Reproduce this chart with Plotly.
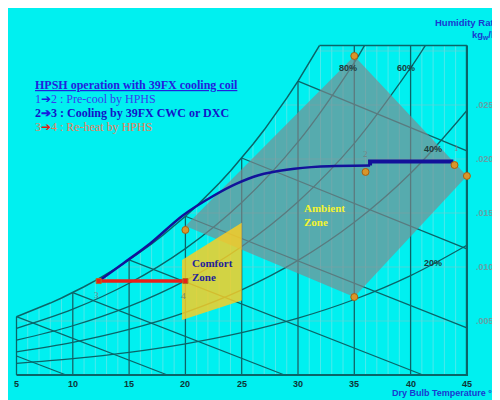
import plotly.graph_objects as go

# saturation curve (100% RH), humidity ratio kg/kg
sat_t = [5, 6, 7, 8, 9, 10, 11, 12, 13, 14, 15, 16, 17, 18, 19, 20,
         21, 22, 23, 24, 25, 26, 27, 28, 29, 30, 31, 31.9]
sat_w = [0.00540, 0.00580, 0.00621, 0.00666, 0.00713, 0.00763, 0.00817, 0.00873,
         0.00933, 0.00997, 0.01065, 0.01137, 0.01213, 0.01294, 0.01379, 0.01470,
         0.01566, 0.01667, 0.01775, 0.01889, 0.02009, 0.02136, 0.02270, 0.02412,
         0.02563, 0.02721, 0.02889, 0.03050]
w_top = 0.0305

# relative humidity curves
rh_labels = ["80%", "60%", "40%", "20%"]
rh_t = [
    [5, 10, 15, 20, 25, 30, 35, 35.9],
    [5, 10, 15, 20, 25, 30, 35, 40, 41.3],
    [5, 10, 15, 20, 25, 30, 35, 40, 45],
    [5, 10, 15, 20, 25, 30, 35, 40, 45],
]
rh_w = [
    [0.00432, 0.00609, 0.00849, 0.01170, 0.01597, 0.02158, 0.02893, 0.0305],
    [0.00323, 0.00456, 0.00635, 0.00874, 0.01190, 0.01605, 0.02145, 0.02844, 0.0305],
    [0.00215, 0.00303, 0.00422, 0.00580, 0.00788, 0.01061, 0.01414, 0.01868, 0.02449],
    [0.00107, 0.00151, 0.00210, 0.00289, 0.00392, 0.00526, 0.00699, 0.00920, 0.01201],
]
rh_label_t = [34.4, 39.6, 42.0, 42.0]
rh_label_w = [0.0284, 0.0284, 0.0209, 0.0104]

# wet bulb lines (start / end)
wb_t0 = [5, 5, 10, 15, 20, 25, 30]
wb_w0 = [0.00176, 0.00540, 0.00763, 0.01065, 0.01470, 0.02009, 0.02721]
wb_t1 = [9.4, 18.4, 28.8, 41.1, 45, 45, 45]
wb_w1 = [0, 0, 0, 0, 0.00437, 0.01167, 0.02076]

# dry bulb lines
db_t = [5, 10, 15, 20, 25, 30, 35, 40, 45]
db_top = [0.00540, 0.00763, 0.01065, 0.01470, 0.02009, 0.02721, 0.0305, 0.0305, 0.0305]

# faint grid
hgrid_w = [0.005, 0.010, 0.015, 0.020, 0.025, 0.030]
hgrid_t0 = [5, 14.05, 20.3, 24.93, 28.6, 31.6]

x_ticks = [5, 10, 15, 20, 25, 30, 35, 40, 45]
y_ticks = [0.005, 0.010, 0.015, 0.020, 0.025]
y_tick_text = [".005", ".010", ".015", ".020", ".025"]

# zones
ambient_t = [20, 35, 45, 35]
ambient_w = [0.0138, 0.02954, 0.01843, 0.00722]
comfort_t = [19.7, 25.0, 25.0, 19.7]
comfort_w = [0.01065, 0.0141, 0.0069, 0.0051]

# process
cool_t = [12.3, 14.5, 16.9, 19.8, 22.5, 24.5, 26.5, 29.0, 32.0, 36.4]
cool_w = [0.0087, 0.01035, 0.0122, 0.0148, 0.0166, 0.0177, 0.0185, 0.0190, 0.0193, 0.0194]
precool_t = [36.4, 36.4, 43.8]
precool_w = [0.0194, 0.01977, 0.01977]
reheat_t = [12.3, 20.0]
reheat_w = [0.0087, 0.0087]
dots_t = [35, 20, 35, 45, 36.0, 43.9]
dots_w = [0.02954, 0.01343, 0.00722, 0.01843, 0.0188, 0.01944]
pt_labels = ["1", "2", "3", "4"]
pt_t = [44.1, 36.0, 12.1, 19.8]
pt_w = [0.0210, 0.0205, 0.0074, 0.0073]

line_col = "#0a6468"
faint_col = "rgba(170,225,228,0.45)"
W, H, OFF = 500, 400, 8   # page body margin shifts the figure by 8px


def paper(x, y):
    # picture pixels -> paper coords
    return (x - OFF) / W, 1 - (y - OFF) / H


fig = go.Figure()


def seg(xs, ys, color, width):
    fig.add_trace(go.Scatter(x=xs, y=ys, mode="lines", hoverinfo="skip",
                             line=dict(color=color, width=width), showlegend=False))


# faint grid verticals every degree
vx, vy = [], []
for t in range(6, 45):
    top = sat_w[sat_t.index(t)] if t in sat_t else w_top
    vx += [t, t, None]
    vy += [0, top, None]
seg(vx, vy, faint_col, 1)
hx, hy = [], []
for w, t0 in zip(hgrid_w, hgrid_t0):
    hx += [t0, 45, None]
    hy += [w, w, None]
seg(hx, hy, "rgba(120,200,205,0.6)", 1)

# dry bulb
dx, dy = [], []
for t, top in zip(db_t, db_top):
    dx += [t, t, None]
    dy += [0, top, None]
seg(dx, dy, line_col, 1.3)
# wet bulb
wx, wy = [], []
for a, b, c, d in zip(wb_t0, wb_w0, wb_t1, wb_w1):
    wx += [a, c, None]
    wy += [b, d, None]
seg(wx, wy, line_col, 1.3)
# rh curves
for ts, ws in zip(rh_t, rh_w):
    fig.add_trace(go.Scatter(x=ts, y=ws, mode="lines", hoverinfo="skip", showlegend=False,
                             line=dict(color=line_col, width=1.3, shape="spline")))
seg(sat_t, sat_w, line_col, 1.5)
seg([31.9, 45], [w_top, w_top], line_col, 1.5)
seg([5, 45, 45], [0, 0, w_top], line_col, 2.2)

# zones
fig.add_trace(go.Scatter(x=ambient_t + [ambient_t[0]], y=ambient_w + [ambient_w[0]],
                         mode="lines", fill="toself", fillcolor="rgba(130,135,140,0.66)",
                         line=dict(width=0), hoverinfo="skip", showlegend=False))
fig.add_trace(go.Scatter(x=comfort_t + [comfort_t[0]], y=comfort_w + [comfort_w[0]],
                         mode="lines", fill="toself", fillcolor="rgba(250,205,35,0.84)",
                         line=dict(width=0), hoverinfo="skip", showlegend=False))

# process lines
fig.add_trace(go.Scatter(x=cool_t, y=cool_w, mode="lines", hoverinfo="skip", showlegend=False,
                         line=dict(color="#12129a", width=2.5, shape="spline")))
seg(precool_t, precool_w, "#12129a", 4)
fig.add_trace(go.Scatter(x=reheat_t, y=reheat_w, mode="lines+markers", hoverinfo="skip",
                         showlegend=False, line=dict(color="#e8201a", width=3.5),
                         marker=dict(symbol="square", size=5, color="#e8201a",
                                     line=dict(color="#b07020", width=1))))
fig.add_trace(go.Scatter(x=dots_t, y=dots_w, mode="markers", hoverinfo="skip", showlegend=False,
                         marker=dict(size=7, color="#d9962a", line=dict(color="#a86010", width=1))))

ann = []
for t, w, s in zip(pt_t, pt_w, pt_labels):
    ann.append(dict(x=t, y=w, text=s, showarrow=False,
                    font=dict(family="Liberation Serif", size=9, color="#6f8484")))
for t, w, s in zip(rh_label_t, rh_label_w, rh_labels):
    ann.append(dict(x=t, y=w, text="<b>" + s + "</b>", showarrow=False,
                    font=dict(family="Liberation Sans", size=9, color="#1c3c3c")))
for t in x_ticks:
    ann.append(dict(x=t, y=0, text="<b>%d</b>" % t, showarrow=False, yshift=-9,
                    font=dict(family="Liberation Sans", size=9, color="#0f3535")))
for w, s in zip(y_ticks, y_tick_text):
    ann.append(dict(x=45, y=w, text="<b>" + s + "</b>", showarrow=False, xshift=18,
                    font=dict(family="Liberation Sans", size=9, color="#66a0a6")))

ann.append(dict(x=30.35, y=0.01477, text="<b>Ambient<br>Zone</b>", showarrow=False,
                xanchor="left", align="left",
                font=dict(family="Liberation Serif", size=11, color="#f4f430")))
ann.append(dict(x=20.4, y=0.00972, text="<b>Comfort<br>Zone</b>", showarrow=False,
                xanchor="left", align="left",
                font=dict(family="Liberation Serif", size=11, color="#22229a")))

blue_arrow = "<span style='color:#1a1ae0'>➔</span>"
red_arrow = "<span style='color:#e02010'>➔</span>"
legend_lines = [
    ("<b><u>HPSH operation with 39FX cooling coil</u></b>", "#2222dd", 85),
    ("1" + blue_arrow + "2 : Pre-cool by HPHS", "#3a3af0", 99),
    ("<b>2" + blue_arrow + "3 : Cooling by 39FX CWC or DXC</b>", "#1414c8", 113),
    ("3" + red_arrow + "4 : Re-heat by HPHS", "#e8805a", 127),
]
for txt, col, ypx in legend_lines:
    px, py = paper(33, ypx)
    ann.append(dict(xref="paper", yref="paper", x=px, y=py, text=txt,
                    showarrow=False, xanchor="left", yanchor="middle",
                    font=dict(family="Liberation Serif", size=12, color=col)))

px, py = paper(433, 22)
ann.append(dict(xref="paper", yref="paper", x=px, y=py, yanchor="middle",
                text="<b>Humidity Ratio</b>", showarrow=False, xanchor="left",
                font=dict(family="Liberation Sans", size=9.5, color="#1a3ad0")))
px, py = paper(470, 35)
ann.append(dict(xref="paper", yref="paper", x=px, y=py, yanchor="middle",
                text="<b>kg<sub>w</sub>/kg<sub>a</sub></b>", showarrow=False, xanchor="left",
                font=dict(family="Liberation Sans", size=9.5, color="#1a3ad0")))
px, py = paper(390, 393)
ann.append(dict(xref="paper", yref="paper", x=px, y=py, yanchor="middle",
                text="<b>Dry Bulb Temperature °C</b>", showarrow=False, xanchor="left",
                font=dict(family="Liberation Sans", size=9, color="#1a3ad0")))

fig.update_layout(
    width=W, height=H,
    margin=dict(l=0, r=0, t=0, b=0),
    paper_bgcolor="#00f0f0",
    plot_bgcolor="rgba(0,0,0,0)",
    xaxis=dict(range=[4.245, 48.65], visible=False, fixedrange=True),
    yaxis=dict(range=[-0.003056, 0.033981], visible=False, fixedrange=True),
    annotations=ann,
)

fig.write_html("out.html")
